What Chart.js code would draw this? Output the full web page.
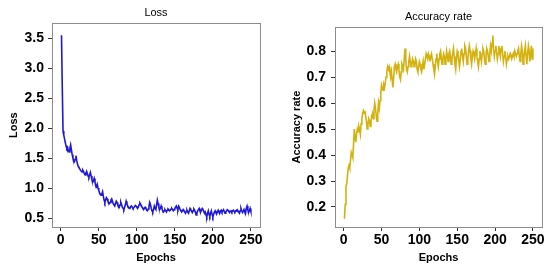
<!DOCTYPE html>
<html>
<head>
<meta charset="utf-8">
<script src="https://cdn.jsdelivr.net/npm/chart.js@4/dist/chart.umd.min.js"></script>
<style>
html,body{margin:0;padding:0;background:#fff;}
#wrap{position:relative;width:550px;height:270px;overflow:hidden;}
canvas{position:absolute;top:0;}
#c1{left:0;}
#c2{left:275px;}
</style>
</head>
<body>
<div id="wrap">
<canvas id="c1" width="275" height="270"></canvas>
<canvas id="c2" width="275" height="270"></canvas>
</div>
<script>
// ---- data ----
const lossValues = [
3.55,2.70,1.95,1.88,1.82,1.76,1.70,1.66,1.68,1.62,
1.60,1.66,1.72,1.64,1.56,1.50,1.46,1.44,1.48,1.54,
1.46,1.40,1.36,1.34,1.32,1.30,1.28,1.27,1.30,1.28,
1.24,1.22,1.25,1.28,1.24,1.20,1.18,1.22,1.26,1.20,
1.14,1.10,1.12,1.16,1.10,1.04,1.02,1.06,1.00,0.96,
0.92,0.90,0.88,0.90,0.94,0.86,0.80,0.76,0.80,0.84,
0.82,0.78,0.76,0.74,0.76,0.80,0.82,0.78,0.74,0.72,
0.70,0.74,0.78,0.76,0.72,0.70,0.68,0.72,0.76,0.72,
0.68,0.66,0.64,0.68,0.72,0.78,0.74,0.70,0.68,0.66,
0.67,0.69,0.70,0.68,0.66,0.67,0.69,0.71,0.70,0.68,
0.66,0.68,0.72,0.75,0.73,0.70,0.68,0.66,0.64,0.66,
0.68,0.66,0.63,0.62,0.65,0.70,0.76,0.72,0.66,0.62,
0.60,0.64,0.70,0.66,0.64,0.72,0.80,0.74,0.68,0.64,
0.66,0.70,0.66,0.62,0.60,0.62,0.64,0.62,0.60,0.63,
0.65,0.64,0.62,0.63,0.65,0.66,0.64,0.62,0.64,0.66,
0.68,0.70,0.66,0.64,0.70,0.68,0.64,0.62,0.60,0.62,
0.64,0.62,0.60,0.58,0.61,0.63,0.60,0.58,0.62,0.66,
0.64,0.61,0.59,0.62,0.65,0.63,0.60,0.55,0.58,0.62,
0.64,0.66,0.62,0.60,0.63,0.66,0.64,0.61,0.58,0.60,
0.55,0.52,0.58,0.62,0.56,0.53,0.58,0.62,0.56,0.52,
0.56,0.60,0.62,0.59,0.57,0.60,0.63,0.60,0.58,0.61,
0.63,0.60,0.62,0.64,0.61,0.58,0.60,0.62,0.64,0.63,
0.61,0.59,0.61,0.62,0.60,0.62,0.63,0.61,0.60,0.62,
0.63,0.61,0.62,0.60,0.58,0.62,0.66,0.62,0.59,0.61,
0.64,0.60,0.58,0.66,0.70,0.64,0.59,0.62,0.66,0.61
];
const accuracyValues = [
0.155,0.21,0.28,0.29,0.32,0.35,0.36,0.35,0.38,0.41,
0.40,0.39,0.44,0.50,0.47,0.45,0.48,0.50,0.49,0.51,
0.50,0.48,0.52,0.54,0.56,0.57,0.56,0.57,0.55,0.53,
0.50,0.52,0.54,0.53,0.51,0.53,0.55,0.56,0.54,0.57,
0.60,0.58,0.55,0.53,0.56,0.60,0.58,0.61,0.64,0.67,
0.66,0.65,0.67,0.66,0.68,0.70,0.72,0.74,0.73,0.74,
0.72,0.70,0.72,0.69,0.66,0.70,0.74,0.75,0.73,0.72,
0.74,0.75,0.73,0.70,0.69,0.72,0.75,0.74,0.73,0.77,
0.81,0.77,0.73,0.72,0.74,0.76,0.78,0.76,0.74,0.75,
0.77,0.76,0.74,0.75,0.77,0.76,0.73,0.72,0.74,0.76,
0.75,0.73,0.72,0.74,0.76,0.73,0.75,0.77,0.79,0.78,
0.77,0.79,0.78,0.76,0.78,0.79,0.77,0.75,0.73,0.71,
0.74,0.77,0.79,0.76,0.74,0.77,0.79,0.80,0.77,0.75,
0.77,0.79,0.78,0.75,0.77,0.80,0.78,0.76,0.79,0.80,
0.78,0.75,0.77,0.79,0.81,0.78,0.75,0.73,0.77,0.80,
0.79,0.76,0.74,0.77,0.80,0.81,0.78,0.76,0.79,0.82,
0.81,0.78,0.75,0.77,0.80,0.82,0.80,0.77,0.75,0.78,
0.80,0.79,0.77,0.79,0.81,0.78,0.76,0.74,0.77,0.80,
0.78,0.76,0.79,0.81,0.80,0.77,0.75,0.78,0.81,0.80,
0.78,0.76,0.79,0.82,0.80,0.83,0.86,0.81,0.78,0.80,
0.82,0.80,0.77,0.79,0.82,0.80,0.78,0.81,0.82,0.79,
0.76,0.78,0.80,0.78,0.75,0.77,0.78,0.77,0.78,0.79,
0.78,0.77,0.78,0.79,0.78,0.80,0.79,0.78,0.79,0.80,
0.81,0.78,0.76,0.79,0.82,0.80,0.75,0.77,0.80,0.82,
0.78,0.75,0.79,0.82,0.80,0.76,0.79,0.82,0.77,0.81
];
const epochs = lossValues.map((_, i) => i + 1);
const epochTicks = [0, 50, 100, 150, 200, 250];
const lossTicks = [0.5, 1.0, 1.5, 2.0, 2.5, 3.0, 3.5];
const accuracyTicks = [0.2, 0.3, 0.4, 0.5, 0.6, 0.7, 0.8];

// ---- styling / chart building ----
const FONT = "'Liberation Sans', Arial, sans-serif";
Chart.defaults.font.family = FONT;
Chart.defaults.color = '#000';

const boxPlugin = {
  id: 'box',
  afterDraw(chart) {
    const a = chart.chartArea, ctx = chart.ctx;
    ctx.save();
    ctx.strokeStyle = '#8c8c8c';
    ctx.lineWidth = 1;
    ctx.strokeRect(Math.round(a.left) + 0.5, Math.round(a.top) + 0.5,
      Math.round(a.right - a.left), Math.round(a.bottom - a.top));
    ctx.restore();
  }
};

function makeChart(id, cfg) {
  const pts = epochs.map((e, i) => ({x: e, y: cfg.values[i]}));
  return new Chart(document.getElementById(id), {
    type: 'line',
    data: {datasets: [{data: pts, borderColor: cfg.color, borderWidth: 1.6,
      pointRadius: 0, tension: 0, fill: false}]},
    options: {
      responsive: false, animation: false, events: [],
      layout: {padding: {left: 0, top: 0, right: cfg.padRight, bottom: 0}},
      plugins: {
        legend: {display: false}, tooltip: {enabled: false},
        title: {display: true, text: cfg.title, fullSize: false,
          font: {size: 11, weight: 'normal', family: FONT}, color: '#000',
          padding: {top: cfg.titleTop, bottom: cfg.titleBottom}}
      },
      scales: {
        x: {
          type: 'linear', min: -11.5, max: 262,
          afterBuildTicks: s => { s.ticks = epochTicks.map(v => ({value: v})); },
          afterFit: s => { s.height = 43; },
          grid: {drawOnChartArea: false, drawTicks: true, tickLength: 4, color: '#333'},
          border: {display: false},
          ticks: {font: {size: 14, weight: 'bold', family: FONT}, color: '#000', padding: 1,
            maxRotation: 0, autoSkip: false},
          title: {display: true, text: 'Epochs', font: {size: 11, weight: 'bold', family: FONT},
            color: '#000', padding: {top: 0, bottom: 5}}
        },
        y: {
          type: 'linear', min: cfg.yMin, max: cfg.yMax,
          afterBuildTicks: s => { s.ticks = cfg.ticks.map(v => ({value: v})); },
          afterFit: s => { s.width = cfg.yWidth; },
          grid: {drawOnChartArea: false, drawTicks: true, tickLength: 4, color: '#333'},
          border: {display: false},
          ticks: {font: {size: 14, weight: 'bold', family: FONT}, color: '#000', padding: cfg.yPad,
            autoSkip: false, callback: v => Number(v).toFixed(1)},
          title: {display: true, text: cfg.yTitle, font: {size: 11, weight: 'bold', family: FONT},
            color: '#000', padding: {top: cfg.yTitlePad, bottom: 0}}
        }
      }
    },
    plugins: [boxPlugin]
  });
}

makeChart('c1', {values: lossValues, color: '#1f17d6', title: 'Loss', yTitle: 'Loss',
  ticks: lossTicks, yMin: 0.35, yMax: 3.75, yWidth: 52, yPad: 4, yTitlePad: 7,
  padRight: 15, titleTop: 6, titleBottom: 4});
makeChart('c2', {values: accuracyValues, color: '#d4b10c', title: 'Accuracy rate', yTitle: 'Accuracy rate',
  ticks: accuracyTicks, yMin: 0.123, yMax: 0.892, yWidth: 60, yPad: 5, yTitlePad: 15,
  padRight: 8, titleTop: 10, titleBottom: 4});
</script>
</body>
</html>
